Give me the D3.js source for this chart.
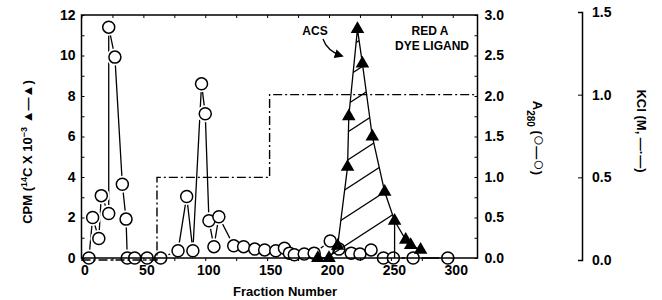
<!DOCTYPE html>
<html>
<head>
<meta charset="utf-8">
<script src="https://cdn.jsdelivr.net/npm/d3@7"></script>
<style>
  body { margin: 0; background: #fff; }
  svg { display: block; font-family: "Liberation Sans", Arial, sans-serif; }
</style>
</head>
<body>
<svg id="chart" width="662" height="300"></svg>
<script>
/* A280, open circles (right axis) */
var a280Fraction = [6, 9, 14, 16, 22, 22, 27, 33, 36, 37, 43, 53, 64, 78, 85, 90, 97, 100, 103, 107, 111,
                    123, 131, 140, 148, 157, 164, 168, 172, 180, 188, 201, 208, 218, 225, 234, 244, 252, 268, 296];
var a280Value = [0, 0.50, 0.24, 0.77, 0.55, 2.85, 2.48, 0.91, 0.48, 0, 0, 0, 0, 0.09, 0.76, 0.09, 2.15, 1.78, 0.46, 0.14, 0.51,
                 0.15, 0.14, 0.11, 0.10, 0.09, 0.12, 0.06, 0.04, 0.05, 0.06, 0.21, 0.11, 0.06, 0.05, 0.10, 0, 0, 0, 0];

/* 14C cpm x 10^-3, filled triangles (left axis) */
var cpmFraction = [191, 200, 207, 215, 216, 223, 227, 235, 245, 253, 262, 266, 274];
var cpmValue = [0, 0, 0.6, 4.5, 7.0, 11.3, 9.6, 6.0, 3.27, 1.84, 0.9, 0.64, 0.4];

/* hatched ACS peak outline */
var peakFraction = [200, 207, 215, 216, 223, 227, 235, 245, 253, 253];
var peakValue = [0, 0.6, 4.5, 7.0, 11.3, 9.6, 6.0, 3.27, 1.84, 0];

/* KCl step gradient */
var kclFraction = [0, 61, 152, 320];
var kclMolar = [0, 0.5, 1.0, 1.0];

/* tick labels */
var xTicks = [0, 50, 100, 150, 200, 250, 300];
var cpmTicks = [0, 2, 4, 6, 8, 10, 12];
var a280Ticks = [0, 0.5, 1.0, 1.5, 2.0, 2.5, 3.0];
var kclTicks = [0, 0.5, 1.0, 1.5];

var svg = d3.select("svg#chart");

var x = d3.scaleLinear().domain([0, 320]).range([81.5, 477.5]);
var yCpm = d3.scaleLinear().domain([0, 12]).range([258, 15]);
var yA = d3.scaleLinear().domain([0, 3]).range([258, 15]);
var yKcl = d3.scaleLinear().domain([0, 1.5]).range([260, 12]);

var a280 = a280Fraction.map((f, i) => ({ f: f, v: a280Value[i] }));
var cpm = cpmFraction.map((f, i) => ({ f: f, v: cpmValue[i] }));
var peak = peakFraction.map((f, i) => ({ f: f, v: peakValue[i] }));
var kcl = kclFraction.map((f, i) => ({ f: f, v: kclMolar[i] }));

var tickFont = g => g.selectAll("text")
  .style("font-size", "14px").style("font-weight", "bold").attr("fill", "#000");

/* A280 line + circles (white halo gives the little gaps) */
svg.append("path")
  .datum(a280)
  .attr("d", d3.line().x(d => x(d.f)).y(d => yA(d.v)))
  .attr("fill", "none").attr("stroke", "#000").attr("stroke-width", 1.3);

svg.append("g").selectAll("circle.halo")
  .data(a280).enter().append("circle")
  .attr("cx", d => x(d.f)).attr("cy", d => yA(d.v)).attr("r", 6)
  .attr("fill", "#fff").attr("stroke", "#fff").attr("stroke-width", 5);

svg.append("g").selectAll("circle.pt")
  .data(a280).enter().append("circle")
  .attr("cx", d => x(d.f)).attr("cy", d => yA(d.v)).attr("r", 6)
  .attr("fill", "#fff").attr("stroke", "#000").attr("stroke-width", 1.5);

/* KCl dash-dot */
svg.append("path")
  .datum(kcl)
  .attr("d", d3.line().curve(d3.curveStepAfter).x(d => x(d.f)).y(d => yKcl(d.v)))
  .attr("fill", "none").attr("stroke", "#000").attr("stroke-width", 1.4)
  .attr("stroke-dasharray", "9,3,2,3");

/* hatching under ACS peak */
var peakPoly = d3.line().x(d => x(d.f)).y(d => yCpm(d.v));
svg.append("clipPath").attr("id", "peakClip")
  .append("path").attr("d", peakPoly(peak) + "Z");

var hatch = svg.append("g").attr("clip-path", "url(#peakClip)");
var slope = -0.65, gap = 28;
d3.range(0, 12).forEach(i => {
  var y0 = 262 - i * gap;
  hatch.append("line")
    .attr("x1", 320).attr("y1", y0)
    .attr("x2", 420).attr("y2", y0 + slope * 100)
    .attr("stroke", "#000").attr("stroke-width", 1.3);
});
svg.append("line")
  .attr("x1", x(253)).attr("x2", x(253))
  .attr("y1", yCpm(0)).attr("y2", yCpm(1.84))
  .attr("stroke", "#000").attr("stroke-width", 1.3);

/* 14C line + triangles */
svg.append("path")
  .datum(cpm)
  .attr("d", d3.line().x(d => x(d.f)).y(d => yCpm(d.v)))
  .attr("fill", "none").attr("stroke", "#000").attr("stroke-width", 1.3);

svg.append("g").selectAll("path.tri")
  .data(cpm).enter().append("path")
  .attr("d", d3.symbol().type(d3.symbolTriangle).size(80))
  .attr("transform", d => `translate(${x(d.f)},${yCpm(d.v)})`)
  .attr("fill", "#000");

/* frame */
svg.append("rect")
  .attr("x", x(0)).attr("y", yCpm(12))
  .attr("width", x(320) - x(0)).attr("height", yCpm(0) - yCpm(12))
  .attr("fill", "none").attr("stroke", "#000").attr("stroke-width", 1.5);

/* axes */
svg.append("g")
  .attr("transform", `translate(${x(0)},0)`)
  .call(d3.axisLeft(yCpm).tickValues(d3.range(0, 13)).tickSize(-3).tickPadding(6)
    .tickFormat(d => cpmTicks.includes(d) ? d : ""))
  .call(g => g.select(".domain").remove())
  .call(tickFont);

svg.append("g")
  .attr("transform", `translate(${x(320)},0)`)
  .call(d3.axisRight(yA).tickValues(d3.range(0, 3.01, 0.25)).tickSize(-3).tickPadding(7)
    .tickFormat(d => a280Ticks.includes(d) ? d3.format(".1f")(d) : ""))
  .call(g => g.select(".domain").remove())
  .call(tickFont);

svg.append("g")
  .attr("transform", `translate(0,${yCpm(12)})`)
  .call(d3.axisTop(x).tickValues(d3.range(0, 301, 25)).tickSize(-3).tickFormat(""))
  .call(g => g.select(".domain").remove());

svg.append("g")
  .attr("transform", `translate(0,${yCpm(0)})`)
  .call(d3.axisBottom(x).tickValues(d3.range(0, 301, 25)).tickSize(3).tickPadding(4)
    .tickFormat(d => xTicks.includes(d) ? d : ""))
  .call(g => g.select(".domain").remove())
  .call(tickFont)
  .call(g => g.selectAll("text").attr("dx", 3));

/* KCl axis */
svg.append("g")
  .attr("transform", "translate(582,0)")
  .call(d3.axisRight(yKcl).tickValues(kclTicks).tickSize(-4).tickSizeOuter(-4).tickPadding(10)
    .tickFormat(d3.format(".1f")))
  .call(g => g.select(".domain").attr("stroke-width", 1.5))
  .call(tickFont);

/* axis titles */
svg.append("text")
  .attr("x", 285).attr("y", 296)
  .attr("text-anchor", "middle")
  .style("font-size", "13px").style("font-weight", "bold")
  .text("Fraction Number");

var leftTitle = svg.append("text")
  .attr("transform", "translate(32,152) rotate(-90)")
  .attr("text-anchor", "middle")
  .style("font-size", "13px").style("font-weight", "bold");
leftTitle.append("tspan").text("CPM (");
leftTitle.append("tspan").attr("baseline-shift", "super").style("font-size", "9px").text("14");
leftTitle.append("tspan").text("C X 10");
leftTitle.append("tspan").attr("baseline-shift", "super").style("font-size", "9px").text("\u22123");
leftTitle.append("tspan").text(" \u25B2\u2014\u25B2)");

var rightTitle = svg.append("text")
  .attr("transform", "translate(533,138) rotate(90)")
  .attr("text-anchor", "middle")
  .style("font-size", "13px").style("font-weight", "bold");
rightTitle.append("tspan").text("A");
rightTitle.append("tspan").attr("baseline-shift", "sub").style("font-size", "10px").text("280");
rightTitle.append("tspan").text(" (");
rightTitle.append("tspan").style("font-size", "19px").style("font-weight", "normal").text("\u25CB");
rightTitle.append("tspan").text("\u2014");
rightTitle.append("tspan").style("font-size", "19px").style("font-weight", "normal").text("\u25CB");
rightTitle.append("tspan").text(")");

svg.append("text")
  .attr("transform", "translate(637,131) rotate(90)")
  .attr("text-anchor", "middle")
  .style("font-size", "13px").style("font-weight", "bold")
  .text("KCl (M, \u2014\u00B7\u2014)");

/* annotations */
var note = svg.append("g").style("font-size", "12px").style("font-weight", "bold");
note.append("text").attr("x", 315).attr("y", 35).attr("text-anchor", "middle").text("ACS");
note.append("text").attr("x", 430).attr("y", 35).attr("text-anchor", "middle").text("RED A");
note.append("text").attr("x", 432).attr("y", 50).attr("text-anchor", "middle").text("DYE LIGAND");

svg.append("defs").append("marker")
  .attr("id", "head").attr("viewBox", "0 0 10 10").attr("refX", 8).attr("refY", 5)
  .attr("markerWidth", 7).attr("markerHeight", 7).attr("orient", "auto")
  .append("path").attr("d", "M0,0L10,5L0,10Z").attr("fill", "#000");

svg.append("path")
  .attr("d", "M323,39 Q327,51 342,56")
  .attr("fill", "none").attr("stroke", "#000").attr("stroke-width", 1.3)
  .attr("marker-end", "url(#head)");
</script>
</body>
</html>
